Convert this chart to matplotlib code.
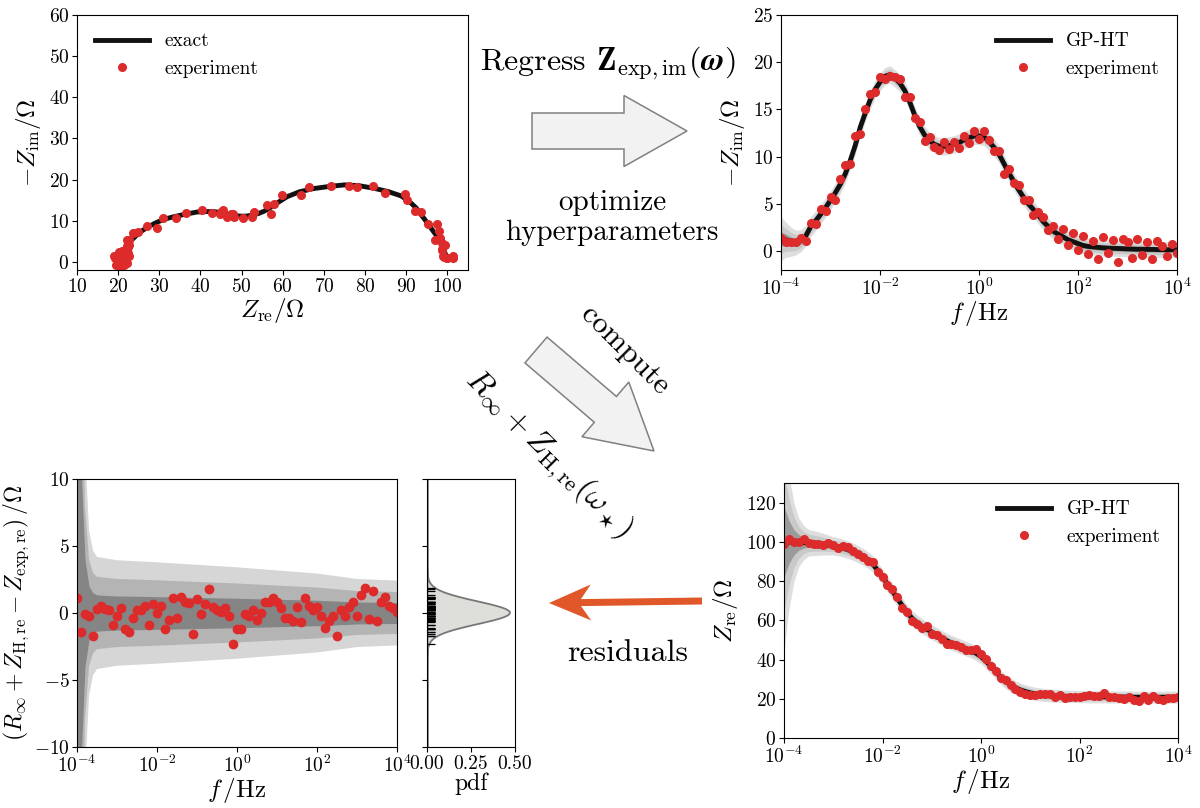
import numpy as np
import matplotlib
matplotlib.use("Agg")
import matplotlib.pyplot as plt
from matplotlib.patches import Polygon
from matplotlib.ticker import NullLocator

plt.rcParams['font.family'] = ['cmr10', 'DejaVu Serif']
plt.rcParams['mathtext.fontset'] = 'cm'
plt.rcParams['axes.formatter.use_mathtext'] = True
plt.rcParams['font.size'] = 14
plt.rcParams['axes.unicode_minus'] = True

# log10 frequency grid (0.1 decade, 1e-4..1e4)
logf = np.round(np.arange(-40, 41) / 10.0, 1)

zim_model = [1.3, 1.2, 1.0, 0.9, 1.1, 1.6, 2.6, 3.2, 3.9, 4.6, 5.4, 6.2, 7.1, 8.2, 9.6, 11.2, 13.1, 14.6, 16.0, 17.1,
             17.9, 18.5, 18.7, 18.3, 17.8, 17.0, 15.8, 14.4, 13.2, 12.3, 11.7, 11.3, 11.1, 11.1, 11.2, 11.3, 11.5, 11.8, 12.0, 12.2,
             12.2, 12.1, 11.6, 11.0, 10.3, 9.3, 8.3, 7.4, 6.5, 5.7, 5.0, 4.4, 3.8, 3.1, 2.6, 2.1, 1.8, 1.5, 1.2, 1.0,
             0.8, 0.6, 0.5, 0.45, 0.4, 0.35, 0.32, 0.3, 0.28, 0.26, 0.24, 0.22, 0.2, 0.2, 0.18, 0.18, 0.16, 0.16, 0.15, 0.15, 0.15]
zim_noise = [0.1, -0.2, 0.0, 0.1, 0.3, -0.5, 0.4, -0.3, 0.6, -0.4, 0.3, -0.8, 0.5, 0.9, -0.4, 1.0, -0.7, 0.4, 0.6, -0.3,
             0.5, -0.3, -0.2, 0.1, 0.4, -0.7, 0.5, -0.3, 0.5, -0.6, 0.4, -0.3, -0.4, 0.5, -0.4, 0.3, -0.6, 0.4, -0.5, 0.5,
             -0.3, 0.6, 0.2, -0.4, 0.3, -1.1, 0.4, -0.2, 0.5, -0.3, 0.4, -0.6, 0.3, 0.5, -0.4, 0.6, -0.5, 0.8, -0.6, 0.9,
             -0.7, 1.0, -0.8, 0.6, -1.2, 1.1, -0.5, 0.9, -1.4, 1.0, 0.7, -0.9, 1.1, -0.6, 0.8, -1.0, 0.9, 0.4, -0.7, 0.6, -0.3]
zre_model = [100, 99.9, 99.8, 99.7, 99.6, 99.5, 99.3, 99.1, 98.8, 98.4, 98.0, 97.5, 96.8, 96.0, 95.0, 93.8, 92.4, 90.8, 88.8, 85.5,
             82.0, 78.5, 75.0, 71.2, 67.5, 64.0, 61.0, 58.8, 57.0, 55.5, 54.0, 52.5, 51.0, 49.7, 48.5, 47.5, 46.5, 45.5, 44.5, 43.2,
             41.5, 39.2, 36.5, 33.7, 31.0, 28.8, 27.0, 25.6, 24.5, 23.7, 23.0, 22.5, 22.2, 21.9, 21.7, 21.5, 21.4, 21.3, 21.2, 21.2,
             21.1, 21.1, 21.0, 21.0, 21.0, 21.0, 20.9, 20.9, 20.9, 20.9, 20.9, 20.8, 20.8, 20.8, 20.8, 20.8, 20.8, 20.8, 20.8, 20.8, 20.8]
residuals = [1.1, -1.4, -0.1, -0.2, -1.7, 0.3, 0.5, 0.3, 0.2, -0.9, -0.2, 0.4, -1.2, -1.4, -0.4, 0.25, 0.2, 0.55, -0.9, 0.7,
             0.0, 0.55, -1.2, -0.5, 1.1, -0.4, 1.2, 0.85, 0.75, -1.6, 1.05, -0.1, 0.7, 1.8, 0.45, 0.2, 0.1, 0.4, -0.25, -2.3,
             -1.2, -1.2, -0.1, -0.25, 0.2, -0.55, 0.0, 0.8, 0.8, 1.15, 0.85, 0.4, -0.4, -0.4, -0.6, 0.45, -0.7, 1.15, 0.5, 0.2,
             0.45, -0.25, -1.1, -0.6, -0.2, -1.7, 0.2, -0.25, 0.45, 0.85, -0.25, 1.35, 1.9, -0.45, 1.65, -0.6, 0.85, 1.2, 0.5, 0.4, 0.1]

# credible band half-widths (1 sigma) at nodes in log10 f
band_logf = [-4.0, -3.9, -3.8, -3.7, -3.6, -3.5, -3.0, -2.0, 0.0, 2.0, 3.0, 4.0]
sig_im = [0.75, 0.6, 0.5, 0.42, 0.38, 0.35, 0.32, 0.3, 0.3, 0.28, 0.27, 0.27]
sig_re = [18.0, 11.0, 6.5, 4.0, 2.8, 2.2, 1.5, 1.3, 1.2, 1.0, 1.0, 1.0]
sig_res = [25.0, 11.0, 4.0, 2.0, 1.5, 1.35, 1.27, 1.22, 1.1, 0.95, 0.82, 0.78]

f = 10.0 ** logf
zim_model = np.array(zim_model); zre_model = np.array(zre_model)
zim_exp = zim_model + np.array(zim_noise)
res = np.array(residuals)
zre_exp = zre_model - res
s_im = np.interp(logf, band_logf, sig_im)
s_re = np.interp(logf, band_logf, sig_re)
s_res = np.interp(logf, band_logf, sig_res)

RED = '#dd2a2a'
BANDS = [(3.1, '#d6d6d6'), (2.0, '#b4b4b4'), (1.0, '#858585')]
BANDS_L = [(3.1, '#dedede'), (2.0, '#c9c9c9'), (1.0, '#9a9a9a')]
W, H = 1200, 808
fig = plt.figure(figsize=(12, 8.08), dpi=100)

def box(x0, y0, x1, y1):
    return [x0 / W, 1 - y1 / H, (x1 - x0) / W, (y1 - y0) / H]

def logaxis(ax):
    ax.set_xscale('log')
    ax.set_xlim(1e-4, 1e4)
    ax.set_xticks([1e-4, 1e-2, 1e0, 1e2, 1e4])
    ax.xaxis.set_minor_locator(NullLocator())
    ax.set_xlabel(r'$f\,/{\rm Hz}$', fontsize=18, labelpad=0)

for_ticks = dict(labelsize=14, pad=2)

# Panel 1 Nyquist
ax1 = fig.add_axes(box(77, 15, 468, 270))
ax1.plot(zre_model, zim_model, color='#111111', lw=3.5, label='exact')
ax1.plot(zre_exp, zim_exp, 'o', color=RED, ms=5.5, label='experiment')
ax1.set_xlim(10, 105); ax1.set_ylim(-2, 60)
ax1.set_xticks(range(10, 101, 10)); ax1.set_yticks(range(0, 61, 10))
ax1.set_xlabel(r'$Z_{\rm re}/\Omega$', fontsize=18, labelpad=0)
ax1.set_ylabel(r'$-Z_{\rm im}/\Omega$', fontsize=18)
ax1.tick_params(**for_ticks)
ax1.legend(loc='upper left', frameon=False, fontsize=14, handlelength=2.8)

# Panel 2 Zim vs f
ax2 = fig.add_axes(box(781, 15, 1177, 270))
for k, c in BANDS_L:
    ax2.fill_between(f, zim_model - k * s_im, zim_model + k * s_im, color=c, lw=0)
ax2.plot(f, zim_model, color='#111111', lw=3.5, label='GP-HT')
ax2.plot(f, zim_exp, 'o', color=RED, ms=5.5, label='experiment')
logaxis(ax2)
ax2.set_ylim(-2, 25); ax2.set_yticks(range(0, 26, 5))
ax2.set_ylabel(r'$-Z_{\rm im}/\Omega$', fontsize=18)
ax2.tick_params(**for_ticks)
ax2.legend(loc='upper right', frameon=False, fontsize=14, handlelength=2.8)

# Panel 3 residuals
ax3 = fig.add_axes(box(77, 479, 397, 747))
for k, c in BANDS:
    ax3.fill_between(f, -k * s_res, k * s_res, color=c, lw=0)
ax3.plot(f, res, 'o', color=RED, ms=6)
logaxis(ax3)
ax3.set_ylim(-10, 10); ax3.set_yticks([-10, -5, 0, 5, 10])
ax3.set_ylabel(r'$(R_\infty + Z_{\rm H,re} - Z_{\rm exp,re})\,/\Omega$', fontsize=17, labelpad=2)
ax3.tick_params(**for_ticks)

# pdf panel
axp = fig.add_axes(box(427, 479, 515, 747))
yy = np.linspace(-10, 10, 600)
sd = res.std(); mu = res.mean()
pdf = np.exp(-0.5 * ((yy - mu) / sd) ** 2) / (sd * np.sqrt(2 * np.pi))
axp.fill_betweenx(yy, 0, pdf, color='#dededa', edgecolor='#777777', lw=1.3)
axp.plot(np.full_like(res, 0.018), res, '_', color='black', ms=7, mew=0.9)
axp.set_xlim(0, 0.5); axp.set_ylim(-10, 10)
axp.set_xticks([0, 0.25, 0.5]); axp.set_xticklabels(['0.00', '0.25', '0.50'])
axp.set_yticks([-10, -5, 0, 5, 10]); axp.set_yticklabels([])
axp.tick_params(**for_ticks)
axp.set_xlabel('pdf', fontsize=17, labelpad=0)

# Panel 4 Zre vs f
ax4 = fig.add_axes(box(784, 483, 1178, 738))
for k, c in BANDS_L:
    ax4.fill_between(f, zre_model - k * s_re, zre_model + k * s_re, color=c, lw=0)
ax4.plot(f, zre_model, color='#111111', lw=3.5, label='GP-HT')
ax4.plot(f, zre_exp, 'o', color=RED, ms=5.5, label='experiment')
logaxis(ax4)
ax4.set_ylim(0, 130); ax4.set_yticks(range(0, 121, 20))
ax4.set_ylabel(r'$Z_{\rm re}/\Omega$', fontsize=18)
ax4.tick_params(**for_ticks)
ax4.legend(loc='upper right', frameon=False, fontsize=14, handlelength=2.8)

# block arrows drawn in figure pixel space
def block_arrow(x0, y0, x1, y1, body, head, hlen, notch=0.0, **kw):
    p0 = np.array([x0, y0], float); p1 = np.array([x1, y1], float)
    d = (p1 - p0) / np.linalg.norm(p1 - p0)
    n = np.array([-d[1], d[0]])
    hb = p1 - d * hlen
    hj = hb + d * notch
    pts = [p0 + n * body / 2, hj + n * body / 2, hb + n * head / 2, p1,
           hb - n * head / 2, hj - n * body / 2, p0 - n * body / 2]
    pts = [(p[0] / W, 1 - p[1] / H) for p in pts]
    fig.patches.append(Polygon(pts, closed=True, transform=fig.transFigure, **kw))

block_arrow(532, 131, 687, 131, 36, 71, 63, fc='#f2f2f2', ec='#808080', lw=1.1)
block_arrow(536, 350, 654, 451, 34, 72, 64, fc='#f2f2f2', ec='#808080', lw=1.1)
block_arrow(702, 601, 549, 603, 7, 36, 42, notch=10, fc='#e0572a', ec='none')

fig.text(608 / W, 1 - 63 / H, r'Regress $\mathbf{Z}_{\rm exp,im}(\boldsymbol{\omega})$', fontsize=23, ha='center', va='center')
fig.text(612 / W, 1 - 218 / H, 'optimize\nhyperparameters', fontsize=21, ha='center', va='center', linespacing=1.2)
fig.text(625 / W, 1 - 350 / H, 'compute', fontsize=22, ha='center', va='center', rotation=-45)
fig.text(548 / W, 1 - 455 / H, r'$R_\infty + Z_{\rm H,re}(\omega_\star)$', fontsize=23, ha='center', va='center', rotation=-45)
fig.text(628 / W, 1 - 653 / H, 'residuals', fontsize=23, ha='center', va='center')

fig.savefig('out.png', dpi=100)
